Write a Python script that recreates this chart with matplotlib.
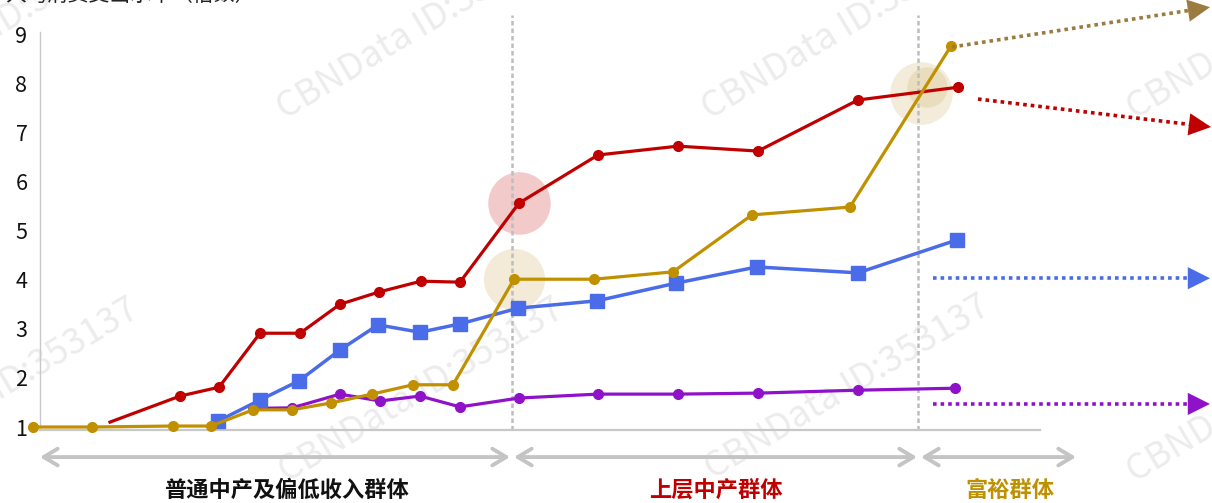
import matplotlib
matplotlib.use('Agg')
from matplotlib import pyplot as plt

plt.rcParams['font.family'] = ['Noto Sans CJK SC', 'DejaVu Sans']

# Data (x in chart units)
red_x = [110, 180, 219, 260, 300, 340, 379, 421, 460, 519, 598, 678, 758, 858, 958]
red_y = [1.10, 1.63, 1.81, 2.91, 2.91, 3.50, 3.75, 3.97, 3.95, 5.56, 6.54, 6.72, 6.62, 7.66, 7.92]

blue_x = [218, 260, 299, 340, 378, 420, 460, 518, 597, 676, 757, 858, 957]
blue_y = [1.12, 1.55, 1.94, 2.57, 3.08, 2.93, 3.10, 3.42, 3.57, 3.93, 4.26, 4.14, 4.81]

purple_x = [253, 292, 340, 380, 420, 460, 519, 598, 678, 758, 858, 955]
purple_y = [1.38, 1.39, 1.67, 1.53, 1.63, 1.41, 1.59, 1.67, 1.67, 1.69, 1.75, 1.79]

gold_x = [33, 92, 173, 211, 253, 292, 331, 372, 413, 453, 514, 594, 673, 752, 850, 951]
gold_y = [1.00, 1.00, 1.02, 1.02, 1.35, 1.35, 1.49, 1.67, 1.86, 1.86, 4.01, 4.01, 4.16, 5.32, 5.48, 8.76]

yticks = [1, 2, 3, 4, 5, 6, 7, 8, 9]
group_labels = ['普通中产及偏低收入群体', '上层中产群体', '富裕群体']
group_spans = [(40, 510), (514, 917), (921, 1076)]
group_label_x = [286, 716, 1010]
group_colors = ['#111111', '#C00000', '#BF9000']
dividers = [512, 918]

RED = '#C00000'
BLUE = '#4A6CE8'
PURPLE = '#9012C8'
GOLD = '#C09000'

fig = plt.figure(figsize=(12.12, 5.03), dpi=100)
ax = fig.add_axes([40 / 1212, 73 / 503, 1000 / 1212, 398 / 503])
ax.set_xlim(40, 1040)
ax.set_ylim(0.939, 9.045)

# watermark, kept under the lines
for wx, wy in [(-140, 120), (285, 120), (710, 120), (1135, 120),
               (-138, 483), (287, 483), (713, 480), (1135, 483)]:
    ax.text(wx / 1212, 1 - wy / 503, 'CBNData ID:353137', fontsize=26, color='#ececec',
            rotation=31, rotation_mode='anchor', ha='left', va='baseline',
            transform=fig.transFigure, zorder=0.5, clip_on=False)

# axis title, mostly outside the top edge
fig.text(5 / 1212, 1 - 1 / 503, '人均消费支出水平（倍数）', fontsize=15, color='#222222',
         ha='left', va='baseline')

# highlight circles
ax.plot(519, 5.56, 'o', ms=45, color='#F2CACA', mec='none', zorder=1, clip_on=False)
ax.plot(514, 4.01, 'o', ms=44, color='#F3EBD8', mec='none', zorder=1, clip_on=False)
ax.plot(921, 7.80, 'o', ms=45, color='#F4ECDA', mec='none', zorder=1, clip_on=False)
ax.plot(927, 7.92, 'o', ms=29, color='#EADDBE', mec='none', zorder=1, clip_on=False)

# dividers
for dx in dividers:
    ax.plot([dx, dx], [0.939, 9.39], color='#bdbdbd', lw=1.8, ls=(0, (1.8, 1.2)),
            zorder=2, clip_on=False)

ax.plot(purple_x, purple_y, color=PURPLE, lw=2.3, marker='o', ms=7, zorder=3, clip_on=False)
ax.plot(blue_x, blue_y, color=BLUE, lw=2.5, marker='s', ms=10, zorder=4, clip_on=False)
ax.plot(red_x, red_y, color=RED, lw=2.3, marker='o', ms=7,
        markevery=list(range(1, len(red_x))), zorder=5, clip_on=False)
ax.plot(gold_x, gold_y, color=GOLD, lw=2.3, marker='o', ms=7, zorder=6, clip_on=False)


def dotted_arrow(x0, y0, x1, y1, color):
    f = 0.94
    ax.plot([x0, x0 + (x1 - x0) * f], [y0, y0 + (y1 - y0) * f], color=color, lw=2.6,
            ls=(0, (1, 1.1)), clip_on=False, zorder=6)
    ax.annotate('', xy=(x1, y1), xytext=(x0 + (x1 - x0) * 0.9, y0 + (y1 - y0) * 0.9),
                arrowprops=dict(arrowstyle='-|>,head_length=0.8,head_width=0.4',
                                color=color, lw=0, shrinkA=0, shrinkB=0, mutation_scale=20),
                annotation_clip=False)


dotted_arrow(952, 8.74, 1210, 9.55, '#9B7B3F')
dotted_arrow(978, 7.68, 1211, 7.11, RED)
dotted_arrow(933, 4.03, 1210, 4.03, BLUE)
dotted_arrow(933, 1.47, 1210, 1.47, PURPLE)

# group arrows and labels under the axis
for (a, b), label, lx, c in zip(group_spans, group_labels, group_label_x, group_colors):
    ax.annotate('', xy=(a, -0.068), xytext=(b, -0.068),
                xycoords=('data', 'axes fraction'), textcoords=('data', 'axes fraction'),
                arrowprops=dict(arrowstyle='<->,head_length=0.5,head_width=0.3',
                                color='#c4c4c4', lw=2.8, shrinkA=0, shrinkB=0,
                                mutation_scale=20),
                annotation_clip=False)
    ax.text(lx, -0.151, label, transform=ax.get_xaxis_transform(), ha='center',
            va='center', fontsize=16, fontweight='bold', color=c)

ax.set_yticks(yticks)
ax.set_xticks([])
ax.tick_params(axis='y', length=0, pad=9, labelsize=15.5, labelcolor='#111111')
for s in ['top', 'right']:
    ax.spines[s].set_visible(False)
ax.spines['left'].set_color('#c8c8c8')
ax.spines['left'].set_linewidth(1.0)
ax.spines['bottom'].set_color('#c8c8c8')
ax.spines['bottom'].set_linewidth(1.6)

fig.savefig('out.png', dpi=100)
